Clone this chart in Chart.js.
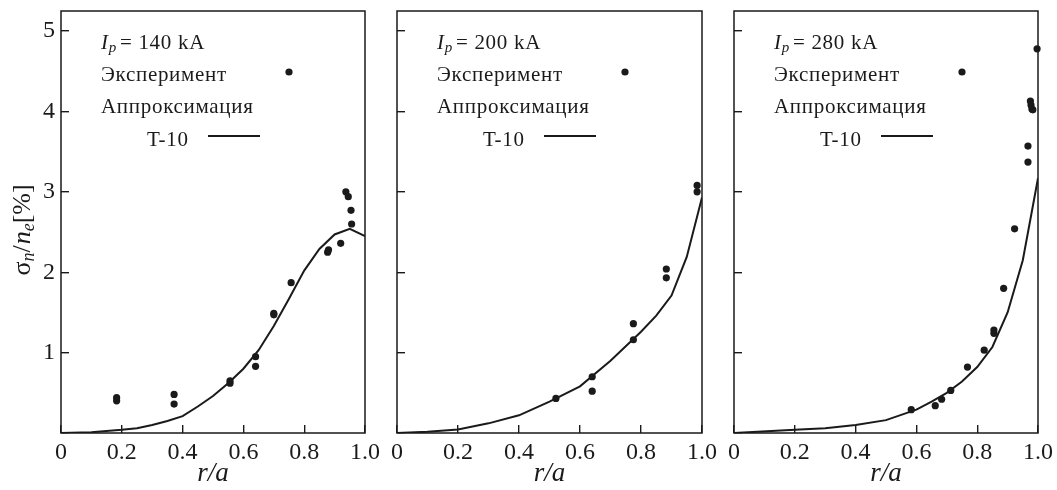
<!DOCTYPE html>
<html>
<head>
<meta charset="utf-8">
<script src="https://cdn.jsdelivr.net/npm/chart.js@4.4.1/dist/chart.umd.min.js"></script>
<style>
html,body{margin:0;padding:0;background:#fff;}
#wrap{position:relative;width:1057px;height:490px;overflow:hidden;background:#fff;}
canvas{position:absolute;top:0;}
</style>
</head>
<body>
<div id="wrap">
<canvas id="c1" width="385" height="490" style="left:0px"></canvas>
<canvas id="c2" width="335" height="490" style="left:385px"></canvas>
<canvas id="c3" width="337" height="490" style="left:720px"></canvas>
</div>
<script>
// токи разряда
const currents = ["140", "200", "280"];

// эксперимент, Ip = 140 kA
const exp140X = [0.183, 0.183, 0.372, 0.372, 0.556, 0.556, 0.64, 0.64, 0.70, 0.70, 0.757, 0.877, 0.88, 0.92, 0.937, 0.945, 0.954, 0.956];
const exp140Y = [0.44, 0.40, 0.48, 0.36, 0.65, 0.62, 0.95, 0.83, 1.49, 1.47, 1.87, 2.25, 2.28, 2.36, 3.00, 2.94, 2.77, 2.60];
// аппроксимация T-10, 140 kA
const fit140X = [0, 0.1, 0.2, 0.25, 0.3, 0.35, 0.4, 0.45, 0.5, 0.55, 0.6, 0.65, 0.7, 0.75, 0.8, 0.85, 0.9, 0.95, 1.0];
const fit140Y = [0, 0.01, 0.04, 0.06, 0.10, 0.15, 0.21, 0.33, 0.46, 0.62, 0.80, 1.03, 1.33, 1.67, 2.02, 2.29, 2.47, 2.54, 2.45];

// эксперимент, Ip = 200 kA
const exp200X = [0.521, 0.64, 0.64, 0.775, 0.775, 0.883, 0.883, 0.984, 0.984];
const exp200Y = [0.43, 0.70, 0.52, 1.36, 1.16, 2.04, 1.93, 3.08, 3.00];
const fit200X = [0, 0.1, 0.2, 0.3, 0.4, 0.5, 0.6, 0.7, 0.8, 0.85, 0.9, 0.95, 1.0];
const fit200Y = [0, 0.015, 0.045, 0.12, 0.22, 0.39, 0.58, 0.90, 1.26, 1.46, 1.71, 2.19, 2.93];

// эксперимент, Ip = 280 kA
const exp280X = [0.583, 0.662, 0.683, 0.713, 0.768, 0.823, 0.855, 0.855, 0.887, 0.923, 0.967, 0.967, 0.975, 0.977, 0.98, 0.983, 0.997];
const exp280Y = [0.29, 0.34, 0.42, 0.53, 0.82, 1.03, 1.24, 1.28, 1.80, 2.54, 3.37, 3.57, 4.13, 4.08, 4.03, 4.02, 4.78];
const fit280X = [0, 0.2, 0.3, 0.4, 0.5, 0.6, 0.65, 0.7, 0.75, 0.8, 0.85, 0.9, 0.95, 1.0];
const fit280Y = [0, 0.04, 0.06, 0.10, 0.16, 0.29, 0.39, 0.50, 0.64, 0.82, 1.07, 1.50, 2.15, 3.17];

// оси
const xTickValues = [0, 0.2, 0.4, 0.6, 0.8, 1.0];
const xTickLabels = ["0", "0.2", "0.4", "0.6", "0.8", "1.0"];
const yTickValues = [0, 1, 2, 3, 4, 5];
const yTickLabels = ["", "1", "2", "3", "4", "5"];
const legendLabels = ["Эксперимент", "Аппроксимация", "T-10"];

const INK = '#1a1a1a';
const SERIF = '"Liberation Serif", "DejaVu Serif", serif';

const pts = (xs, ys) => xs.map((x, i) => ({x: x, y: ys[i]}));

function richText(ctx, parts, x, y) {
    let cx = x;
    parts.forEach(p => {
        ctx.font = (p.it ? 'italic ' : '') + p.size + 'px ' + SERIF;
        ctx.fillText(p.t, cx, y + (p.dy || 0));
        cx += ctx.measureText(p.t).width + (p.gap || 0);
    });
    return cx - x;
}
function richWidth(ctx, parts) {
    let w = 0;
    parts.forEach(p => {
        ctx.font = (p.it ? 'italic ' : '') + p.size + 'px ' + SERIF;
        w += ctx.measureText(p.t).width + (p.gap || 0);
    });
    return w;
}

// рамка, легенда и подпись оси Y
const decor = {
    id: 'decor',
    afterDraw(chart, args, opts) {
        const {ctx, chartArea: a} = chart;
        ctx.save();
        ctx.strokeStyle = INK;
        ctx.lineWidth = 1.5;
        ctx.strokeRect(a.left, a.top, a.right - a.left, a.bottom - a.top);

        ctx.fillStyle = INK;
        ctx.textBaseline = 'middle';
        ctx.letterSpacing = '0.7px';
        const lx = a.left + 40;
        richText(ctx, [
            {t: 'I', it: true, size: 21},
            {t: 'p', it: true, size: 15, dy: 5, gap: 3},
            {t: '= ' + opts.current + ' kA', size: 21}
        ], lx, 43);
        ctx.font = '21px ' + SERIF;
        ctx.fillText(legendLabels[0], lx, 75);
        ctx.fillText(legendLabels[1], lx, 107);
        ctx.fillText(legendLabels[2], a.left + 86, 140);
        ctx.letterSpacing = '0px';
        ctx.beginPath();
        ctx.arc(a.left + 228, 72, 3.6, 0, Math.PI * 2);
        ctx.fill();
        ctx.beginPath();
        ctx.lineWidth = 2;
        ctx.moveTo(a.left + 147, 136);
        ctx.lineTo(a.left + 199, 136);
        ctx.stroke();

        if (opts.yTitle) {
            const parts = [
                {t: 'σ', size: 26},
                {t: 'n', it: true, size: 18, dy: 6},
                {t: '/', size: 26, gap: 1},
                {t: 'n', it: true, size: 26},
                {t: 'e', it: true, size: 18, dy: 6},
                {t: '[%]', size: 26}
            ];
            const w = richWidth(ctx, parts);
            ctx.translate(23, 230);
            ctx.rotate(-Math.PI / 2);
            richText(ctx, parts, -w / 2, 0);
        }
        ctx.restore();
    }
};

function makePanel(id, k, expX, expY, fitX, fitY, yAxisW, padRight) {
    new Chart(document.getElementById(id), {
        type: 'scatter',
        data: {
            datasets: [{
                data: pts(expX, expY),
                pointRadius: 3.6, pointHoverRadius: 3.6,
                backgroundColor: INK, borderWidth: 0,
                clip: false
            }, {
                data: pts(fitX, fitY),
                showLine: true, pointRadius: 0,
                borderColor: INK, borderWidth: 2, tension: 0
            }]
        },
        options: {
            responsive: false, animation: false, devicePixelRatio: 1,
            layout: {padding: {top: 11, right: padRight, left: 0, bottom: 0}},
            plugins: {
                legend: {display: false}, tooltip: {enabled: false},
                decor: {current: currents[k], yTitle: k === 0}
            },
            scales: {
                x: {
                    type: 'linear', min: 0, max: 1,
                    afterBuildTicks: s => { s.ticks = xTickValues.map(v => ({value: v})); },
                    afterFit: s => { s.height = 57; s.paddingLeft = 0; s.paddingRight = 0; },
                    grid: {drawOnChartArea: false, tickLength: -8, color: INK, lineWidth: 1.4},
                    border: {display: false},
                    ticks: {
                        autoSkip: false, maxRotation: 0, padding: 13, color: INK,
                        font: {family: SERIF, size: 24},
                        callback: (v, i) => xTickLabels[i]
                    },
                    title: {
                        display: true, text: 'r/a', color: INK,
                        font: {family: SERIF, size: 27, style: 'italic'},
                        padding: {top: 0, bottom: 0}
                    }
                },
                y: {
                    type: 'linear', min: 0, max: 5.25,
                    afterBuildTicks: s => { s.ticks = yTickValues.map(v => ({value: v})); },
                    afterFit: s => { s.width = yAxisW; s.paddingTop = 0; s.paddingBottom = 0; },
                    grid: {drawOnChartArea: false, tickLength: -8, color: INK, lineWidth: 1.4},
                    border: {display: false},
                    ticks: {
                        padding: 14, color: INK,
                        font: {family: SERIF, size: 24},
                        callback: (v, i) => k === 0 ? yTickLabels[i] : ''
                    }
                }
            }
        },
        plugins: [decor]
    });
}

makePanel('c1', 0, exp140X, exp140Y, fit140X, fit140Y, 61, 20);
makePanel('c2', 1, exp200X, exp200Y, fit200X, fit200Y, 12, 18);
makePanel('c3', 2, exp280X, exp280Y, fit280X, fit280Y, 14, 19);
</script>
</body>
</html>
